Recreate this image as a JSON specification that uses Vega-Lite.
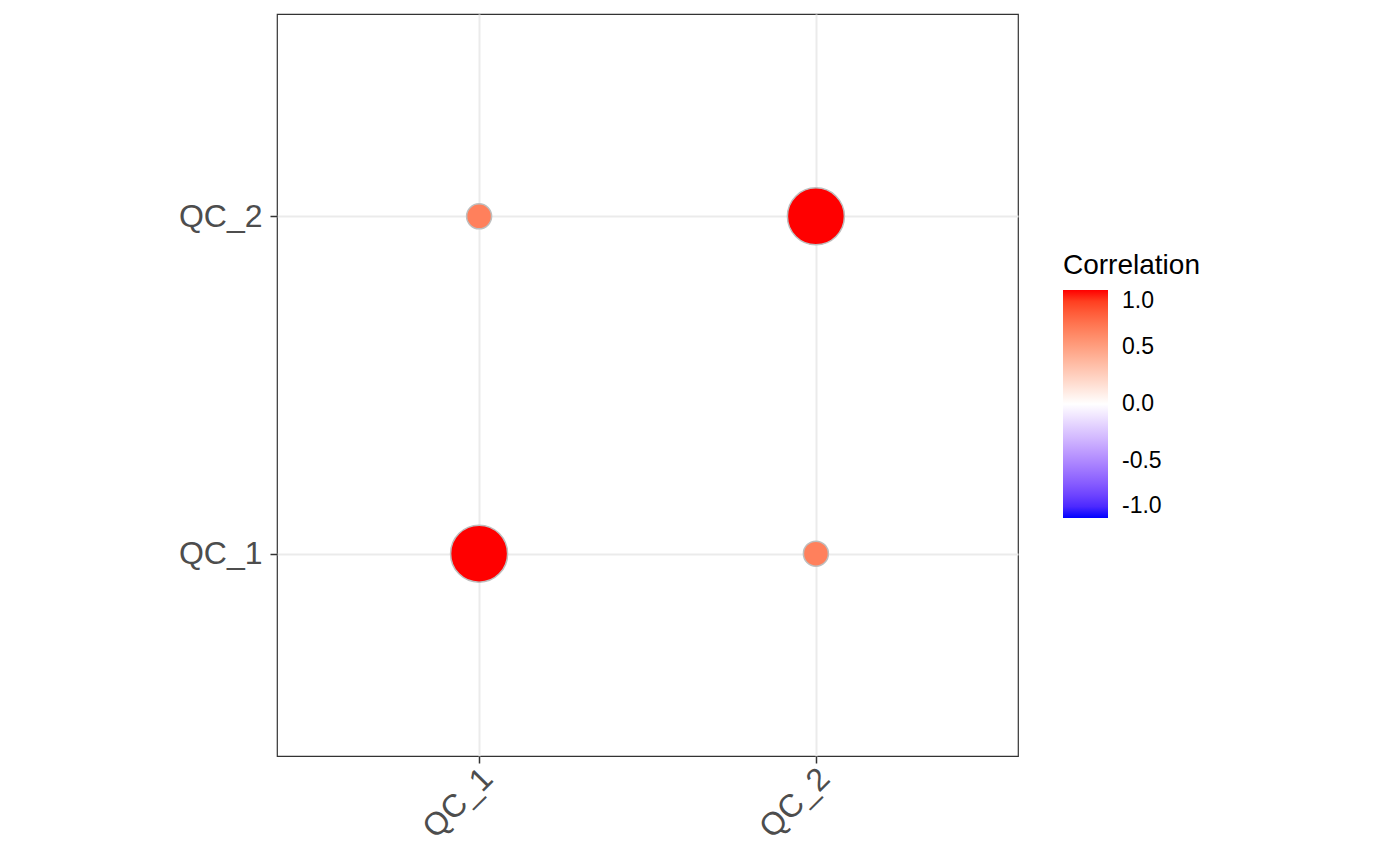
{
  "$schema": "https://vega.github.io/schema/vega-lite/v6.json",
  "width": 741,
  "height": 742,
  "autosize": {"type": "none"},
  "padding": {"left": 277, "top": 14, "right": 382, "bottom": 110},
  "background": "white",
  "config": {
    "font": "Liberation Sans",
    "view": {"stroke": "#333333", "strokeWidth": 1.2},
    "axis": {
      "grid": true,
      "gridColor": "#EBEBEB",
      "gridWidth": 2,
      "domain": false,
      "tickColor": "#333333",
      "tickSize": 7,
      "tickWidth": 1.5,
      "labelColor": "#4D4D4D",
      "labelFontSize": 32,
      "labelFont": "Liberation Sans",
      "title": null,
      "labelPadding": 4
    }
  },
  "data": {
    "values": [
      {"x": "QC_1", "y": "QC_1", "corr": 1.0},
      {"x": "QC_2", "y": "QC_1", "corr": 0.65},
      {"x": "QC_1", "y": "QC_2", "corr": 0.65},
      {"x": "QC_2", "y": "QC_2", "corr": 1.0}
    ]
  },
  "mark": {"type": "circle", "opacity": 1, "stroke": "#BEBEBE", "strokeWidth": 1.5},
  "encoding": {
    "x": {
      "field": "x",
      "type": "nominal",
      "scale": {"type": "point", "padding": 0.6, "domain": ["QC_1", "QC_2"]},
      "axis": {"labelAngle": -45, "labelAlign": "right", "labelBaseline": "middle", "labelPadding": 10, "labelOffset": 8}
    },
    "y": {
      "field": "y",
      "type": "nominal",
      "scale": {"type": "point", "padding": 0.6, "domain": ["QC_2", "QC_1"]},
      "axis": {"labelPadding": 8}
    },
    "size": {
      "field": "corr",
      "type": "quantitative",
      "scale": {"domain": [0.65, 1], "range": [625, 3250]},
      "legend": null
    },
    "color": {
      "field": "corr",
      "type": "quantitative",
      "title": "Correlation",
      "scale": {"domain": [-1, 0, 1], "range": ["#0000FF", "#FFFFFF", "#FF0000"], "interpolate": "lab"},
      "legend": {
        "orient": "none",
        "legendX": 786,
        "legendY": 238,
        "values": [-1, -0.5, 0, 0.5, 1],
        "format": ".1f",
        "labelExpr": "replace(datum.label, '\u2212', '-')",
        "gradientLength": 228,
        "gradientThickness": 45,
        "gradientStrokeWidth": 0,
        "titleFontSize": 28,
        "titleFontWeight": "normal",
        "titleColor": "#000000",
        "titlePadding": 10,
        "labelFontSize": 23,
        "labelColor": "#000000",
        "labelOffset": 14,
        "labelOverlap": false,
        "encode": {
          "labels": {
            "update": {
              "baseline": {"value": "middle"},
              "y": {"signal": "(1 - datum.perc) * 228"}
            }
          }
        }
      }
    }
  }
}
